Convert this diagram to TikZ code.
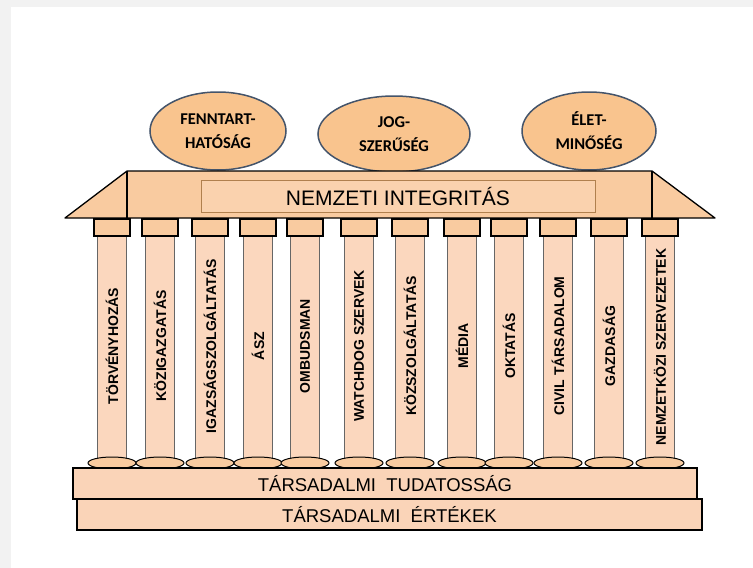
\documentclass[tikz,border=0pt]{standalone}
\usepackage{fontspec}
\setmainfont{Liberation Sans}
\newfontfamily\calfont{Carlito}
\usetikzlibrary{shapes.geometric}

\definecolor{ellfill}{RGB}{249,196,142}
\definecolor{ellline}{RGB}{68,84,106}
\definecolor{rooffill}{RGB}{249,203,160}
\definecolor{bandfill}{RGB}{250,210,174}
\definecolor{bandline}{RGB}{176,128,78}
\definecolor{shaftfill}{RGB}{251,215,190}
\definecolor{slabfill}{RGB}{250,212,184}

\tikzset{
  cupola/.style={ellipse, draw=ellline, line width=1.5pt, fill=ellfill, align=center,
    inner sep=0pt, font=\calfont\bfseries\fontsize{16.5}{24}\selectfont},
  roofline/.style={draw=black, line width=1.3pt, fill=rooffill, line join=round},
  band/.style={draw=bandline, line width=1pt, fill=bandfill, inner sep=0pt,
    font=\fontsize{21}{21}\selectfont},
  capbox/.style={draw=black, line width=1.2pt, fill=rooffill},
  shaft/.style={draw=black!60, line width=0.5pt, fill=shaftfill},
  cushion/.style={draw=black, line width=1pt, fill=rooffill},
  pillar/.style={rotate=90, inner sep=0pt, font=\bfseries\fontsize{14}{14}\selectfont},
  slab/.style={draw=black, line width=2.8pt, fill=slabfill, inner sep=0pt,
    minimum height=31pt, font=\fontsize{18.5}{18.5}\selectfont}
}

\begin{document}
\begin{tikzpicture}[x=1pt,y=-1pt]
        \fill[black!5] (0,0) rectangle (753,568);
        \fill[white] (11,7) rectangle (753,568);
        \useasboundingbox (0,0) rectangle (753,568);

        % cupolas on the roof
        \node[cupola, minimum width=136pt, minimum height=78pt] (fennt) at (218,131) {FENNTART-\\HATÓSÁG};
        \node[cupola, minimum width=152pt, minimum height=76pt] (jog) at (394,134) {JOG-\\SZERŰSÉG};
        \node[cupola, minimum width=134pt, minimum height=78pt] (elet) at (589,131) {ÉLET-\\MINŐSÉG};

        % roof
        \draw[roofline] (65,218) -- (127,171) -- (652,171) -- (715,218) -- cycle;
        \draw[roofline] (127,171) -- (127,218);
        \draw[roofline] (652,171) -- (652,218);
        \node[band, minimum width=394pt, minimum height=32pt] (integ) at (398,196) {NEMZETI INTEGRITÁS};

        % shafts
        \draw[shaft] (97.5,236) rectangle (126.5,458);
        \draw[shaft] (145.5,236) rectangle (174.5,458);
        \draw[shaft] (195.5,236) rectangle (224.5,458);
        \draw[shaft] (243.5,236) rectangle (272.5,458);
        \draw[shaft] (290.5,236) rectangle (319.5,458);
        \draw[shaft] (344.5,236) rectangle (373.5,458);
        \draw[shaft] (395.5,236) rectangle (424.5,458);
        \draw[shaft] (447.5,236) rectangle (476.5,458);
        \draw[shaft] (494.5,236) rectangle (523.5,458);
        \draw[shaft] (543.5,236) rectangle (572.5,458);
        \draw[shaft] (594.5,236) rectangle (623.5,458);
        \draw[shaft] (645.5,236) rectangle (674.5,458);

        % capitals
        \draw[capbox] (94,219) rectangle (130,236);
        \draw[capbox] (142,219) rectangle (178,236);
        \draw[capbox] (192,219) rectangle (228,236);
        \draw[capbox] (240,219) rectangle (276,236);
        \draw[capbox] (287,219) rectangle (323,236);
        \draw[capbox] (341,219) rectangle (377,236);
        \draw[capbox] (392,219) rectangle (428,236);
        \draw[capbox] (444,219) rectangle (480,236);
        \draw[capbox] (491,219) rectangle (527,236);
        \draw[capbox] (540,219) rectangle (576,236);
        \draw[capbox] (591,219) rectangle (627,236);
        \draw[capbox] (642,219) rectangle (678,236);

        % bases
        \draw[cushion] (112,463) ellipse [x radius=24, y radius=6];
        \draw[cushion] (160,463) ellipse [x radius=24, y radius=6];
        \draw[cushion] (210,463) ellipse [x radius=24, y radius=6];
        \draw[cushion] (258,463) ellipse [x radius=24, y radius=6];
        \draw[cushion] (305,463) ellipse [x radius=24, y radius=6];
        \draw[cushion] (359,463) ellipse [x radius=24, y radius=6];
        \draw[cushion] (410,463) ellipse [x radius=24, y radius=6];
        \draw[cushion] (462,463) ellipse [x radius=24, y radius=6];
        \draw[cushion] (509,463) ellipse [x radius=24, y radius=6];
        \draw[cushion] (558,463) ellipse [x radius=24, y radius=6];
        \draw[cushion] (609,463) ellipse [x radius=24, y radius=6];
        \draw[cushion] (660,463) ellipse [x radius=24, y radius=6];

        % pillar names
        \node[pillar] (torveny) at (112,346) {TÖRVÉNYHOZÁS};
        \node[pillar] (kozig) at (160,346) {KÖZIGAZGATÁS};
        \node[pillar] (igazs) at (210,346) {IGAZSÁGSZOLGÁLTATÁS};
        \node[pillar] (asz) at (258,346) {ÁSZ};
        \node[pillar] (ombuds) at (305,346) {OMBUDSMAN};
        \node[pillar] (watch) at (359,346) {WATCHDOG SZERVEK};
        \node[pillar] (kozszolg) at (410,346) {KÖZSZOLGÁLTATÁS};
        \node[pillar] (media) at (462,346) {MÉDIA};
        \node[pillar] (oktat) at (509,346) {OKTATÁS};
        \node[pillar] (civil) at (558,346) {CIVIL TÁRSADALOM};
        \node[pillar] (gazd) at (609,346) {GAZDASÁG};
        \node[pillar] (nemzk) at (660,347) {NEMZETKÖZI SZERVEZETEK};

        % steps
        \node[slab, minimum width=625pt] (ertek) at (389.5,514.5) {TÁRSADALMI\ \ ÉRTÉKEK};
        \node[slab, minimum width=624pt] (tudat) at (385,483.5) {TÁRSADALMI\ \ TUDATOSSÁG};
    \end{tikzpicture}
\end{document}
